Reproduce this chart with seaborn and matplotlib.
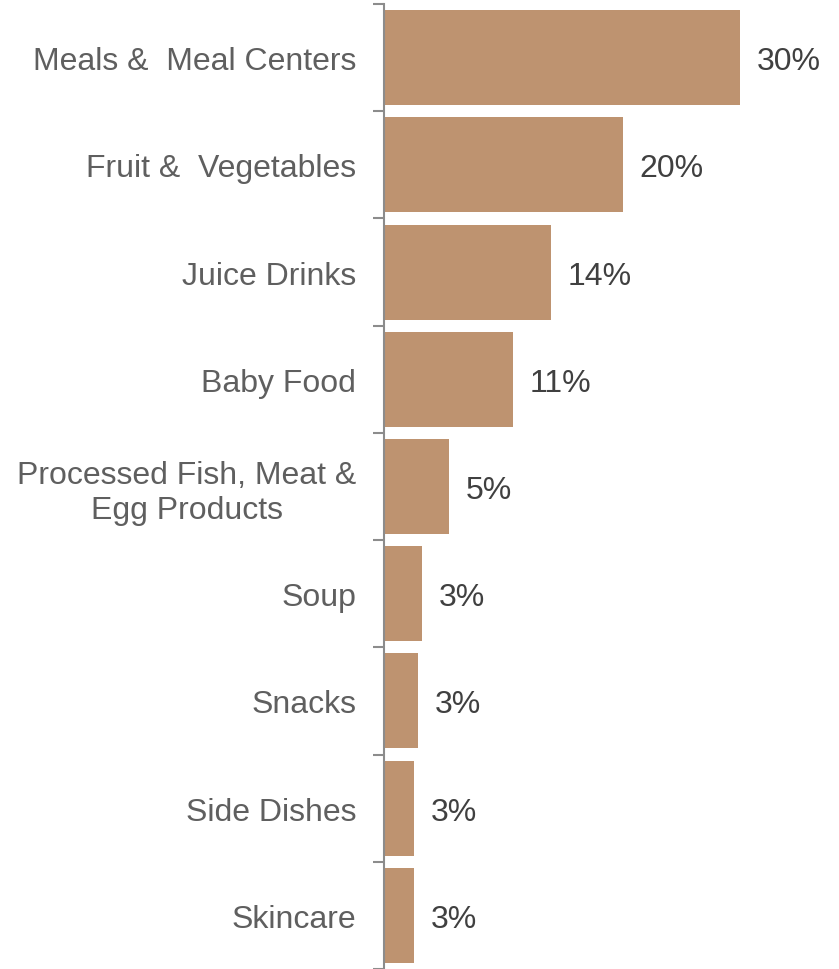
import matplotlib
matplotlib.use("Agg")
import matplotlib.pyplot as plt
import seaborn as sns
import numpy as np
import pandas as pd

categories = ["Meals &  Meal Centers", "Fruit &  Vegetables", "Juice Drinks", "Baby Food",
              "Processed Fish, Meat &\nEgg Products", "Soup", "Snacks", "Side Dishes", "Skincare"]
values = [30.0, 20.1, 14.1, 10.9, 5.5, 3.2, 2.9, 2.5, 2.5]
value_labels = ["30%", "20%", "14%", "11%", "5%", "3%", "3%", "3%", "3%"]

sns.set_style("white")
plt.rcParams['font.family'] = ['Liberation Sans', 'DejaVu Sans']

fig = plt.figure(figsize=(8.39, 9.70), dpi=100)
ax = fig.add_axes([384/839, 0.0, 455/839, 965/970])

df = pd.DataFrame({"cat": categories, "val": values})
sns.barplot(data=df, x="val", y="cat", orient="h", color="#BE9370", saturation=1,
            width=0.885, linewidth=0, ax=ax, order=categories)

texts = ax.bar_label(ax.containers[0], labels=value_labels, padding=12, fontsize=23, color="#404040")
for t in texts:
    t.set_va("center_baseline")

ax.set_xlim(0, 455/11.87)
ax.set_ylim(len(categories) - 0.5, -0.5)
ax.set_xlabel("")
ax.set_ylabel("")
ax.set_xticks([])

for s in ["top", "right", "bottom"]:
    ax.spines[s].set_visible(False)
ax.spines["left"].set_color("#8C8C8C")
ax.spines["left"].set_linewidth(1.5)

ax.set_yticks(np.arange(len(categories)))
ax.set_yticklabels(categories, fontsize=23, color="#5F5F5F", linespacing=1.2,
                   multialignment="center")
ax.tick_params(axis="y", which="major", length=0, pad=20)
ax.set_yticks(np.arange(len(categories) + 1) - 0.5, minor=True)
ax.tick_params(axis="y", which="minor", length=8, width=1.5, color="#8C8C8C", left=True)

fig.savefig("out.png", dpi=100)
